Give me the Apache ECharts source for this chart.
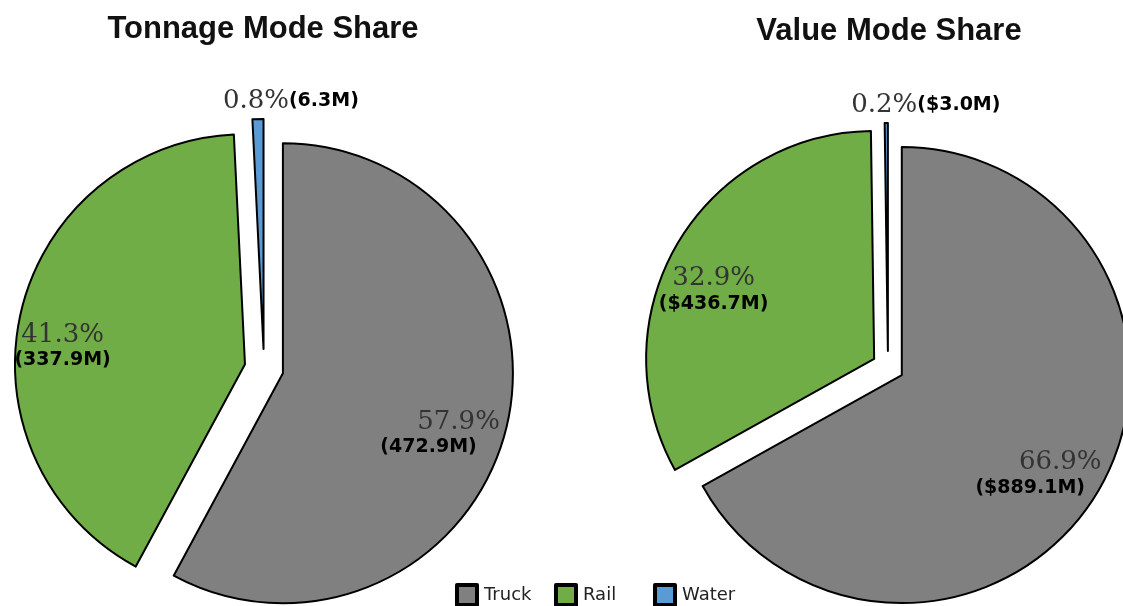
<!DOCTYPE html>
<html>
<head>
<meta charset="utf-8">
<style>
  html, body { margin: 0; padding: 0; background: #fff; }
  #main { width: 1123px; height: 606px; }
</style>
<script src="https://cdn.jsdelivr.net/npm/echarts@6/dist/echarts.min.js"></script>
</head>
<body>
<div id="main"></div>
<script>
const modeNames = ['Truck', 'Rail', 'Water']
const tonnageValues = [472.9, 337.9, 6.3]
const tonnagePct = [57.9, 41.3, 0.8]
const valueValues = [889.1, 436.7, 3.0]
const valuePct = [66.9, 32.9, 0.2]
const titles = ['Tonnage Mode Share', 'Value Mode Share']

const modeColors = ['#808080', '#70ad47', '#5b9bd5']

// move the default 'inside' label (half radius) further out along the bisector;
// tiny slices get their label above the tip
function makeLabelLayout (values, r) {
  const total = values.reduce((a, b) => a + b, 0)
  return function (params) {
    const i = params.dataIndex
    let before = 0
    for (let k = 0; k < i; k++) before += values[k]
    const share = values[i] / total
    const mid = (before + values[i] / 2) / total * Math.PI * 2
    const ux = Math.sin(mid)
    const uy = -Math.cos(mid)
    if (share < 0.05) {
      return { dx: r / 2 * ux - 35, dy: r / 2 * uy - 15, align: 'left', verticalAlign: 'middle' }
    }
    const extra = r * (share > 0.5 ? 0.64 : 0.8) - r / 2
    return { dx: extra * ux, dy: extra * uy + 24, align: 'center', verticalAlign: 'middle' }
  }
}

function buildData (values, pct, prefix) {
  const total = values.reduce((a, b) => a + b, 0)
  return values.map((v, i) => {
    const txt = '(' + prefix + v.toFixed(1) + 'M)'
    const share = v / total
    let fmt
    if (share < 0.05) fmt = '{p|' + pct[i].toFixed(1) + '%}{v|' + txt + '}'
    else if (share > 0.5) fmt = '{pt|' + pct[i].toFixed(1) + '%}\n{v|' + txt + '}'
    else fmt = '{p|' + pct[i].toFixed(1) + '%}\n{v|' + txt + '}'
    return {
      name: modeNames[i],
      value: v,
      selected: true,
      itemStyle: { color: modeColors[i] },
      label: { formatter: fmt }
    }
  })
}

function pieSeries (values, pct, prefix, cx, cy, r, off) {
  return {
    type: 'pie',
    center: [cx, cy],
    radius: [0, r],
    startAngle: 90,
    clockwise: true,
    selectedMode: 'multiple',
    selectedOffset: off,
    avoidLabelOverlap: false,
    itemStyle: { borderColor: '#000', borderWidth: 2 },
    select: { itemStyle: { borderColor: '#000', borderWidth: 2 } },
    emphasis: { disabled: true },
    label: {
      show: true,
      position: 'inside',
      rich: {
        p: { fontFamily: 'DejaVu Serif', fontSize: 26, color: '#333', lineHeight: 27 },
        pt: { fontFamily: 'DejaVu Serif', fontSize: 26, color: '#333', lineHeight: 27, padding: [0, 0, 0, 60] },
        v: { fontFamily: 'DejaVu Sans', fontSize: 19, fontWeight: 'bold', color: '#000', lineHeight: 24 }
      }
    },
    labelLine: { show: false },
    labelLayout: makeLabelLayout(values, r),
    data: buildData(values, pct, prefix)
  }
}

// one legend per mode so the items keep an even pitch
function legendItem (name, i) {
  return {
    data: [name],
    left: 450 + i * 99,
    top: 578,
    icon: 'rect',
    itemWidth: 20,
    itemHeight: 20,
    itemGap: 0,
    selectedMode: false,
    itemStyle: { borderColor: '#000', borderWidth: 4 },
    textStyle: { fontFamily: 'DejaVu Sans', fontSize: 18, color: '#222', padding: [0, 0, 0, 2] }
  }
}

const chartInstance = echarts.init(document.getElementById('main'))
const titleStyle = { fontFamily: 'Liberation Sans', fontSize: 31, fontWeight: 'bold', color: '#111' }
const option = {
  animation: false,
  title: [
    { text: titles[0], left: 258, top: 9, textAlign: 'center', textStyle: titleStyle },
    { text: titles[1], left: 884, top: 11, textAlign: 'center', textStyle: titleStyle }
  ],
  legend: modeNames.map(legendItem),
  series: [
    pieSeries(tonnageValues, tonnagePct, '', 264, 368.5, 230, 19.5),
    pieSeries(valueValues, valuePct, '$', 888, 367, 228, 16)
  ]
}
chartInstance.setOption(option)
</script>
</body>
</html>
